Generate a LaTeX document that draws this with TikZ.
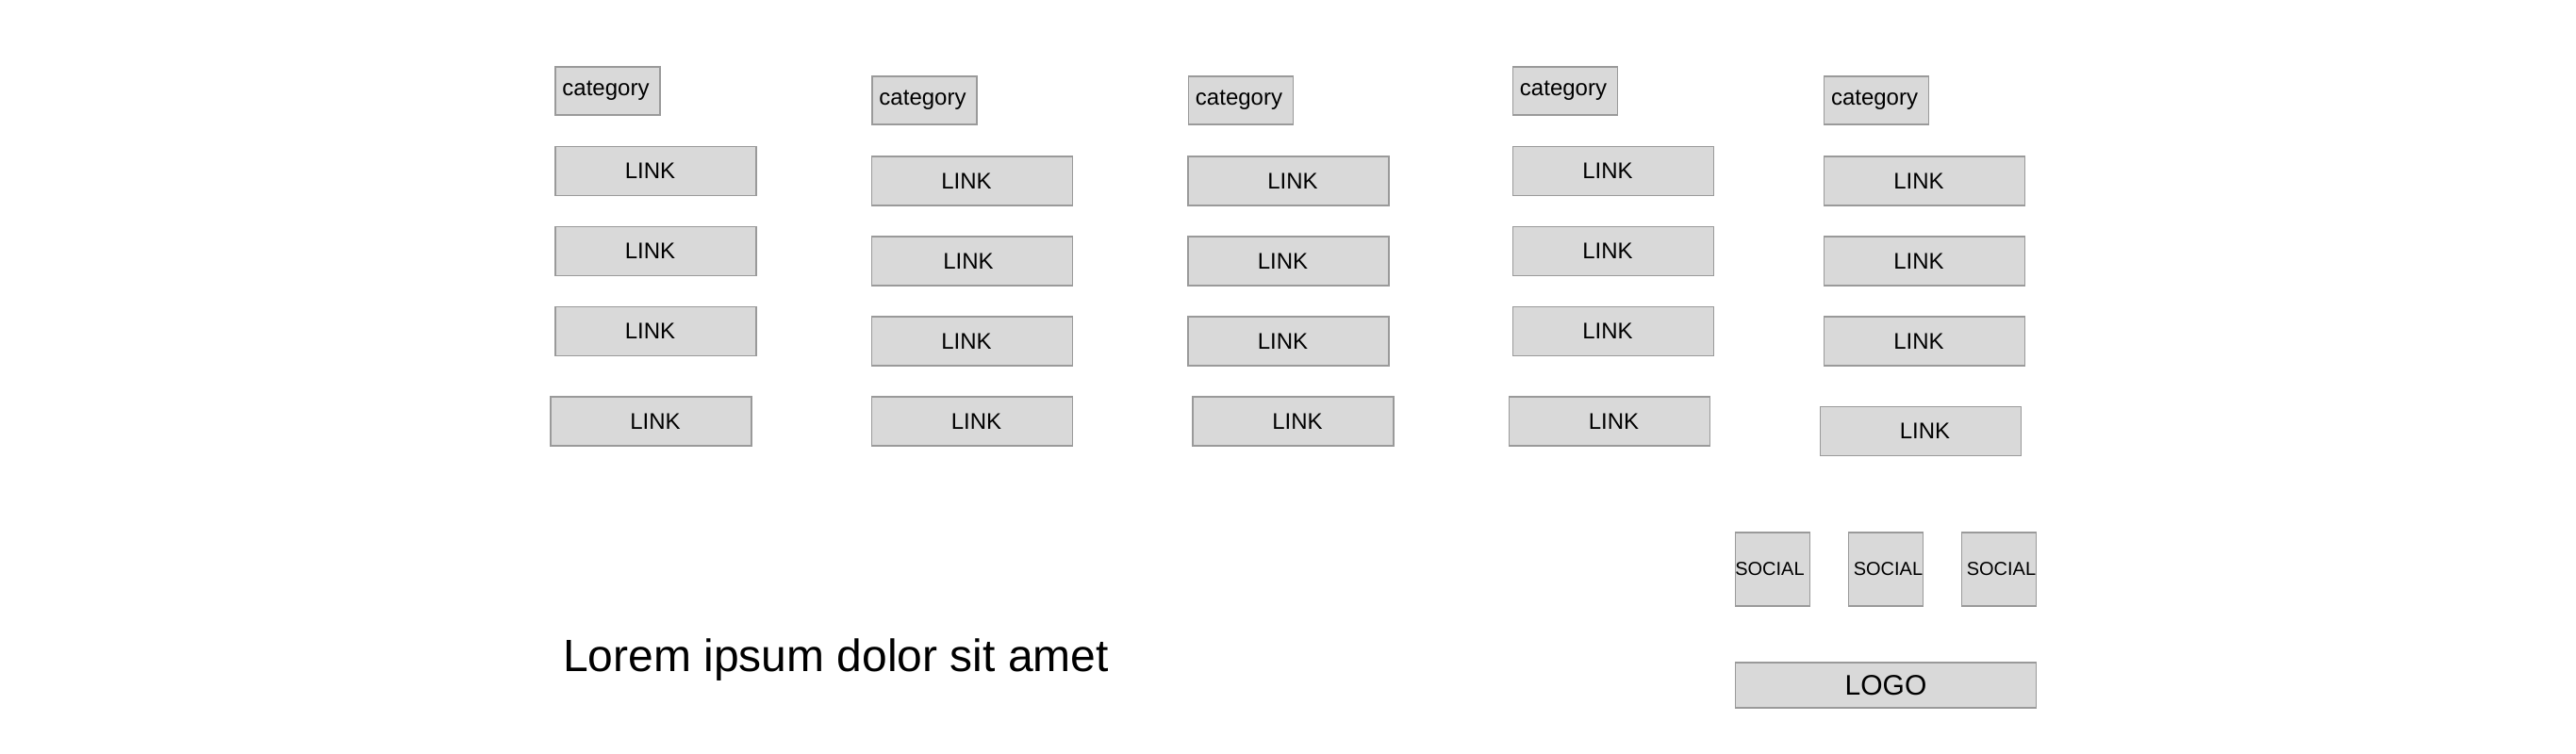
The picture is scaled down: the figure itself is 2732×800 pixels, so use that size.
\documentclass[tikz,border=0pt]{standalone}
\usepackage{fontspec}
\setmainfont{Liberation Sans}
\definecolor{boxfill}{HTML}{D9D9D9}
\definecolor{boxline}{HTML}{9A9A9A}

\begin{document}
\begin{tikzpicture}[x=1pt, y=-1pt,
  box/.style={draw=boxline, fill=boxfill, line width=1.5pt, inner sep=0pt, font=\fontsize{24}{28}\selectfont},
  cat/.style={box, minimum width=111pt, minimum height=51pt, execute at begin node={\hspace{-4pt}}},
  link/.style={box, minimum width=213pt, minimum height=52pt, execute at begin node={\hspace{#1}}},
  link/.default=-12pt,
  social/.style={box, minimum width=79pt, minimum height=78pt, font=\fontsize{20}{24}\selectfont}]
\useasboundingbox (0,0) rectangle (2732,800);

% first column
\node[cat] (cat1) at (644.5,96.5) {category};
\node[link] (link11) at (695.5,181.5) {LINK};
\node[link] (link12) at (695.5,266.5) {LINK};
\node[link] (link13) at (695.5,351.5) {LINK};
\node[link=9pt] (link14) at (690.5,447) {LINK};

% second column
\node[cat] (cat2) at (980.5,106.5) {category};
\node[link] (link21) at (1031,192) {LINK};
\node[link=-8pt] (link22) at (1031,277) {LINK};
\node[link] (link23) at (1031,362) {LINK};
\node[link=9pt] (link24) at (1031,447) {LINK};

% third column
\node[cat] (cat3) at (1316,106.5) {category};
\node[link=9pt] (link31) at (1366.5,192) {LINK};
\node[link] (link32) at (1366.5,277) {LINK};
\node[link] (link33) at (1366.5,362) {LINK};
\node[link=9pt] (link34) at (1371.5,447) {LINK};

% fourth column
\node[cat] (cat4) at (1660,96.5) {category};
\node[link] (link41) at (1711,181.5) {LINK};
\node[link] (link42) at (1711,266.5) {LINK};
\node[link] (link43) at (1711,351.5) {LINK};
\node[link=9pt] (link44) at (1707,447) {LINK};

% fifth column
\node[cat] (cat5) at (1990,106.5) {category};
\node[link] (link51) at (2041,192) {LINK};
\node[link] (link52) at (2041,277) {LINK};
\node[link] (link53) at (2041,362) {LINK};
\node[link=9pt] (link54) at (2037,457.5) {LINK};

\node[social] (soc1) at (1880,604) {\hspace{-6pt}SOCIAL};
\node[social] (soc2) at (2000,604) {\hspace{5pt}SOCIAL};
\node[social] (soc3) at (2120,604) {\hspace{5pt}SOCIAL};
\node[box, minimum width=319pt, minimum height=48pt, font=\fontsize{30}{36}\selectfont] (logo) at (2000,727) {LOGO};

\node[anchor=base west, inner sep=0pt, font=\fontsize{48}{56}\selectfont] (lorem) at (597,712) {Lorem ipsum dolor sit amet};
\end{tikzpicture}
\end{document}
